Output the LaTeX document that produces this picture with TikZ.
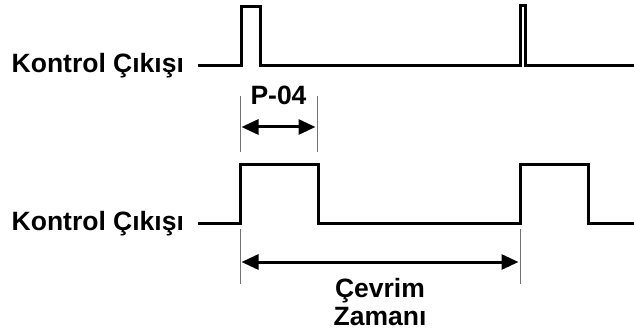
\documentclass[tikz,border=0pt]{standalone}
\usepackage{fontspec}
\setmainfont{Liberation Sans}
\usetikzlibrary{arrows.meta}
\begin{document}
\begin{tikzpicture}[x=1pt,y=-1pt,
  wave/.style={line width=3pt,line join=miter},
  extline/.style={line width=1pt,draw=black!55},
  dimarrow/.style={line width=3pt,{Triangle[length=17pt,width=15pt]}-{Triangle[length=17pt,width=15pt]},shorten <=0pt,shorten >=0pt},
  lbl/.style={font=\fontsize{26.5}{29}\selectfont\bfseries,inner sep=0pt}]
\useasboundingbox (0,0) rectangle (634,334);
% labels
\node[lbl,anchor=base west] (l1) at (11.5,73) {Kontrol Çıkışı};
\node[lbl,anchor=base west] (l2) at (11.5,230) {Kontrol Çıkışı};
% top waveform
\coordinate (t0) at (198,66);
\draw[wave] (t0) -- (241,66) -- (241,7) -- (260,7) -- (260,66) -- (520,66) -- (520,6) -- (525,6) -- (525,66) -- (634,66);
% bottom waveform
\coordinate (b0) at (198,223);
\draw[wave] (b0) -- (240,223) -- (240,164) -- (318,164) -- (318,223) -- (520,223) -- (520,164) -- (588,164) -- (588,223) -- (634,223);
% P-04 dimension
\coordinate (pa1) at (240,96); \coordinate (pa2) at (240,152);
\coordinate (pb1) at (317,96); \coordinate (pb2) at (317,152);
\draw[extline] (pa1) -- (pa2);
\draw[extline] (pb1) -- (pb2);
\coordinate (pl) at (241.5,127); \coordinate (pr) at (315.5,127);
\draw[dimarrow] (pl) -- (pr);
\node[lbl,anchor=base] (p04) at (278.5,105) {P-04};
% cycle dimension
\coordinate (ca1) at (240,229); \coordinate (ca2) at (240,284);
\coordinate (cb1) at (520,229); \coordinate (cb2) at (520,284);
\draw[extline] (ca1) -- (ca2);
\draw[extline] (cb1) -- (cb2);
\coordinate (cl) at (241.5,262); \coordinate (cr) at (518.5,262);
\draw[dimarrow] (cl) -- (cr);
\node[lbl,anchor=base] (cz1) at (380,297) {Çevrim};
\node[lbl,anchor=base] (cz2) at (380,325) {Zamanı};
\end{tikzpicture}
\end{document}
